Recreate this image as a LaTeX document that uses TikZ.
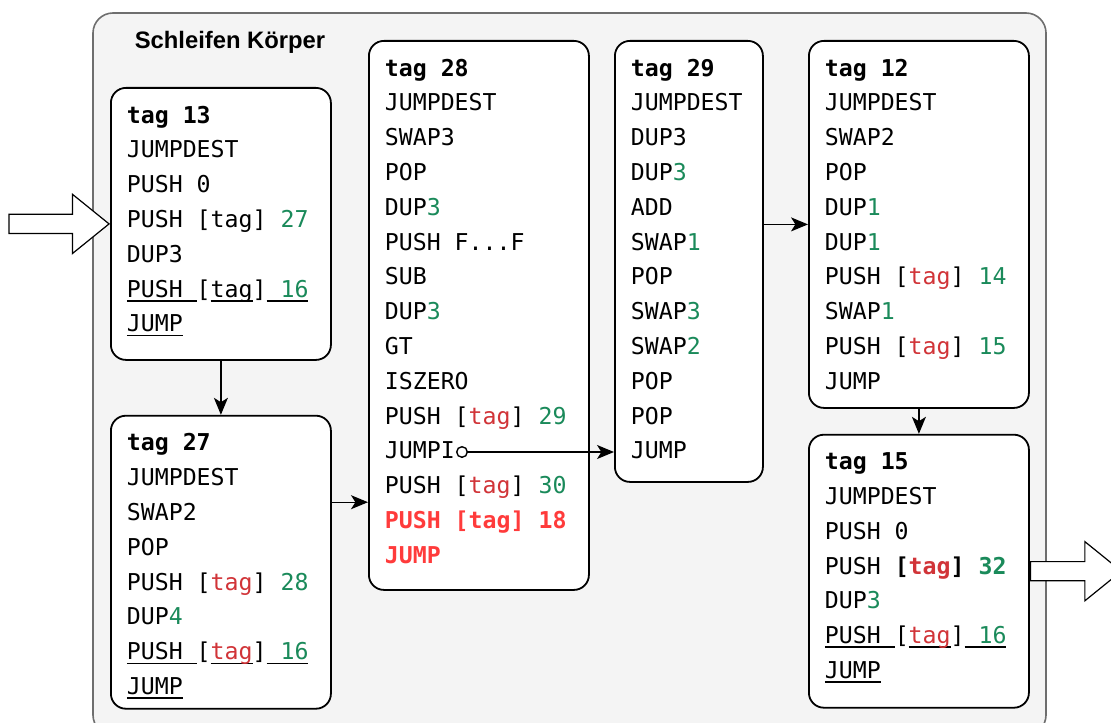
\documentclass[tikz,border=0pt]{standalone}
\usepackage{fontspec}
\setmonofont{DejaVu Sans Mono}
\newfontfamily\headfont{Liberation Sans}
\usetikzlibrary{arrows.meta,positioning,shapes.arrows}
\definecolor{cFrame}{HTML}{6E6E6E}
\definecolor{cBack}{HTML}{F4F4F4}
\definecolor{cNum}{HTML}{1A8A5A}
\definecolor{cTag}{HTML}{D13438}
\definecolor{cHot}{HTML}{FF3B3B}
\tikzset{
  >={Stealth[length=8.5pt,width=7pt,inset=2.2pt]},
  loopbox/.style={draw=cFrame,fill=cBack,line width=0.8pt,rounded corners=10pt},
  blk/.style={draw,fill=white,line width=0.9pt,rounded corners=7.5pt,anchor=north west,
              inner xsep=8pt,inner ysep=9pt,font=\ttfamily\fontsize{11.6pt}{17.4pt}\selectfont},
  ar/.style={->,line width=0.7pt},
  bigarr/.style={single arrow,draw,fill=white,line width=0.6pt,inner xsep=0pt,inner ysep=4.5pt,
                 minimum width=29pt,single arrow head extend=10pt,single arrow tip angle=78},
  ttl/.style={font=\headfont\bfseries\fontsize{11.9pt}{14pt}\selectfont},
}
\newcommand{\nm}[1]{\textcolor{cNum}{#1}}
\newcommand{\tg}{\textcolor{cTag}{tag}}
\newcommand{\ul}[1]{\sbox0{#1}\rlap{\rule[-2.2pt]{\wd0}{0.8pt}}\usebox0}
\newcommand{\listing}[3]{\begin{minipage}[t][#1][t]{#2}#3\end{minipage}}

\begin{document}
\begin{tikzpicture}[x=0.5pt,y=-0.5pt]
\useasboundingbox (0,0) rectangle (1111,722);
\clip (0,0) rectangle (1111,722);
\draw[loopbox] (93,13) rectangle (1046,735);
\node[ttl] (title) at (230,42) {Schleifen Körper};

% blocks of the loop body
\node[blk] (t13) at (110,87) {\listing{118pt}{94pt}{%
  \textbf{tag 13}\\
  JUMPDEST\\
  PUSH 0\\
  PUSH [tag] \nm{27}\\
  DUP3\\
  \ul{PUSH }[\ul{tag}]\ul{ \nm{16}}\\
  \ul{JUMP}}};
\node[blk,below=27pt of t13] (t27) {\listing{128.5pt}{94pt}{%
  \textbf{tag 27}\\
  JUMPDEST\\
  SWAP2\\
  POP\\
  PUSH [\tg] \nm{28}\\
  DUP\nm{4}\\
  \ul{PUSH }[\ul{\tg}]\ul{ \nm{16}}\\
  \ul{JUMP}}};
\node[blk] (t28) at (368,40) {\listing{256.5pt}{94pt}{%
  \textbf{tag 28}\\
  JUMPDEST\\
  SWAP3\\
  POP\\
  DUP\nm{3}\\
  PUSH F...F\\
  SUB\\
  DUP\nm{3}\\
  GT\\
  ISZERO\\
  PUSH [\tg] \nm{29}\\
  JUMPI\\
  PUSH [\tg] \nm{30}\\
  {\bfseries\color{cHot}PUSH [tag] 18}\\
  {\bfseries\color{cHot}JUMP}}};
\node[blk] (t29) at (614,40) {\listing{202.5pt}{58pt}{%
  \textbf{tag 29}\\
  JUMPDEST\\
  DUP3\\
  DUP\nm{3}\\
  ADD\\
  SWAP\nm{1}\\
  POP\\
  SWAP\nm{3}\\
  SWAP\nm{2}\\
  POP\\
  POP\\
  JUMP}};
\node[blk] (t12) at (808,40) {\listing{165.5pt}{94pt}{%
  \textbf{tag 12}\\
  JUMPDEST\\
  SWAP2\\
  POP\\
  DUP\nm{1}\\
  DUP\nm{1}\\
  PUSH [\tg] \nm{14}\\
  SWAP\nm{1}\\
  PUSH [\tg] \nm{15}\\
  JUMP}};
\node[blk,below=12.5pt of t12] (t15) {\listing{118.5pt}{94pt}{%
  \textbf{tag 15}\\
  JUMPDEST\\
  PUSH 0\\
  PUSH \textbf{[\tg] \nm{32}}\\
  DUP\nm{3}\\
  \ul{PUSH }[\ul{\tg}]\ul{ \nm{16}}\\
  \ul{JUMP}}};

% entry and exit of the loop
\node[bigarr,minimum height=50pt,anchor=tip] (entry) at (t13.west) {};
\node[bigarr,minimum height=45.5pt,anchor=tail] (exit) at (t15.east) {};

% control flow
\coordinate (into28) at ([yshift=30pt]t27.east);
\coordinate (jumpi) at ([xshift=44pt,yshift=-206pt]t28.north west);
\draw[ar] (t13) -- (t27);
\draw[ar] (into28) -- (into28 -| t28.west);
\draw[ar,{Circle[open,length=6pt,width=6pt]}->] (jumpi) -- (jumpi -| t29.west);
\draw[ar] (t12.west -| t29.east) -- (t12.west);
\draw[ar] (t12) -- (t15);
\end{tikzpicture}
\end{document}
